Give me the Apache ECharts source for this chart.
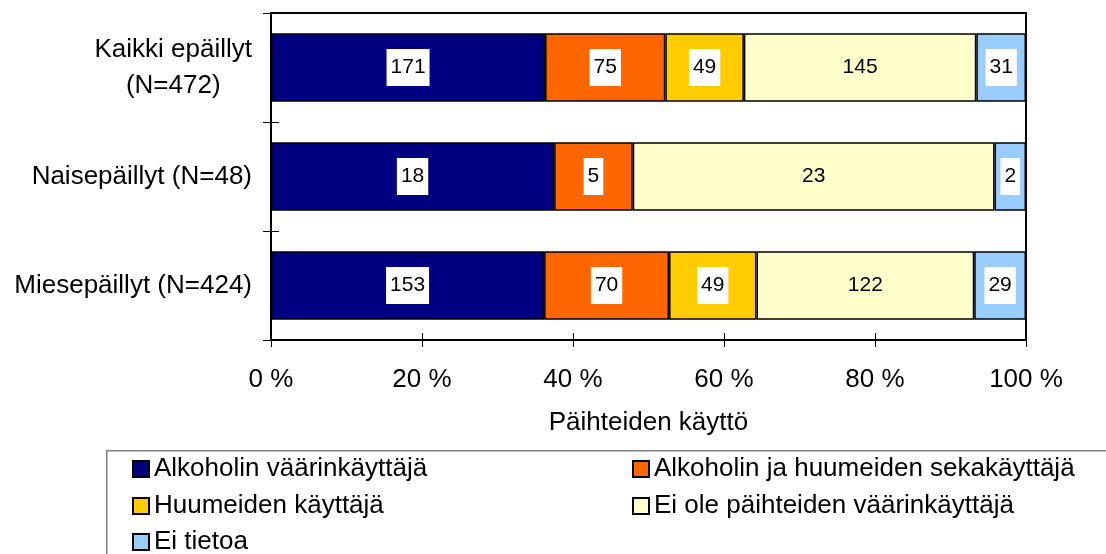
<!DOCTYPE html>
<html>
<head>
<meta charset="utf-8">
<script src="https://cdn.jsdelivr.net/npm/echarts@6/dist/echarts.min.js"></script>
<style>html,body{margin:0;padding:0;background:#fff}#c{width:1106px;height:554px}</style>
</head>
<body>
<div id="c"></div>
<script>
const categories = ['Kaikki epäillyt\n(N=472)', 'Naisepäillyt (N=48)', 'Miesepäillyt (N=424)'];
const seriesNames = ['Alkoholin väärinkäyttäjä', 'Alkoholin ja huumeiden sekakäyttäjä', 'Huumeiden käyttäjä', 'Ei ole päihteiden väärinkäyttäjä', 'Ei tietoa'];
const alkoholi = [171, 18, 153];
const seka = [75, 5, 70];
const huumeet = [49, 0, 49];
const eiOle = [145, 23, 122];
const eiTietoa = [31, 2, 29];
const xTickLabels = ['0 %', '20 %', '40 %', '60 %', '80 %', '100 %'];

const colors = ['#000080', '#FF6600', '#FFCC00', '#FFFFCC', '#99CCFF'];
const allCounts = [alkoholi, seka, huumeet, eiOle, eiTietoa];
const totals = categories.map((_, i) => allCounts.reduce((s, a) => s + a[i], 0));
const font = 'Liberation Sans, Arial, sans-serif';

const series = allCounts.map((counts, si) => ({
  name: seriesNames[si],
  type: 'bar',
  stack: 'total',
  barCategoryGap: '37%',
  itemStyle: { color: colors[si], borderColor: '#000', borderWidth: 1.5 },
  label: {
    show: true,
    position: 'inside',
    color: '#000',
    fontFamily: font,
    fontSize: 21,
    backgroundColor: si === 3 ? 'transparent' : '#fff',
    padding: [9, 4, 7, 4],
    formatter: p => String(counts[p.dataIndex])
  },
  data: counts.map((c, i) => c > 0 ? { value: c / totals[i] * 100 } : { value: null, label: { show: false } })
}));

// legend item placement: [series index, left, top]
const legendPlaces = [[0, 132, 456], [1, 632, 456], [2, 132, 493], [3, 632, 493], [4, 132, 529]];
const legends = legendPlaces.map(([si, l, t]) => ({
  left: l, top: t, orient: 'horizontal',
  itemWidth: 16, itemHeight: 16, icon: 'rect', padding: 0,
  textStyle: { color: '#000', fontFamily: font, fontSize: 26, lineHeight: 26 },
  data: [seriesNames[si]]
}));

const chart = echarts.init(document.getElementById('c'));
chart.setOption({
  animation: false,
  color: colors,
  grid: { left: 271, right: 80, top: 13, bottom: 214, show: true, borderColor: '#000', borderWidth: 2, backgroundColor: 'transparent' },
  xAxis: [{
    type: 'value', min: 0, max: 100, interval: 20,
    axisLine: { show: true, lineStyle: { color: '#000', width: 2 } },
    axisTick: { show: true, length: 7, lineStyle: { color: '#000', width: 1 } },
    splitLine: { show: false },
    axisLabel: { color: '#000', fontFamily: font, fontSize: 26, margin: 27, formatter: v => xTickLabels[v / 20] },
    name: 'Päihteiden käyttö', nameLocation: 'middle', nameGap: 70,
    nameTextStyle: { color: '#000', fontFamily: font, fontSize: 26 }
  }, {
    type: 'value', min: 0, max: 100, interval: 20, position: 'bottom',
    axisLine: { show: false }, axisLabel: { show: false }, splitLine: { show: false },
    axisTick: { show: true, inside: true, length: 7, lineStyle: { color: '#000', width: 1 } }
  }],
  yAxis: [{
    type: 'category', inverse: true, data: categories,
    axisLine: { show: true, lineStyle: { color: '#000', width: 2 } },
    axisTick: { show: true, length: 8, lineStyle: { color: '#000', width: 1 } },
    axisLabel: {
      color: '#000', fontFamily: font, fontSize: 26, margin: 19,
      formatter: v => v.split('\n').map(l => '{c|' + l + '}').join('\n'),
      rich: { c: { align: 'center', fontSize: 26, fontFamily: font, color: '#000', lineHeight: 36 } }
    }
  }, {
    type: 'category', inverse: true, data: categories, position: 'left',
    axisLine: { show: false }, axisLabel: { show: false },
    axisTick: { show: true, inside: true, length: 8, lineStyle: { color: '#000', width: 1 } }
  }],
  legend: legends,
  graphic: [{
    type: 'rect', left: 106, top: 450, z: -1,
    shape: { width: 1100, height: 200 },
    style: { fill: 'transparent', stroke: '#808080', lineWidth: 1.5 }
  }],
  series: series
});
</script>
</body>
</html>
